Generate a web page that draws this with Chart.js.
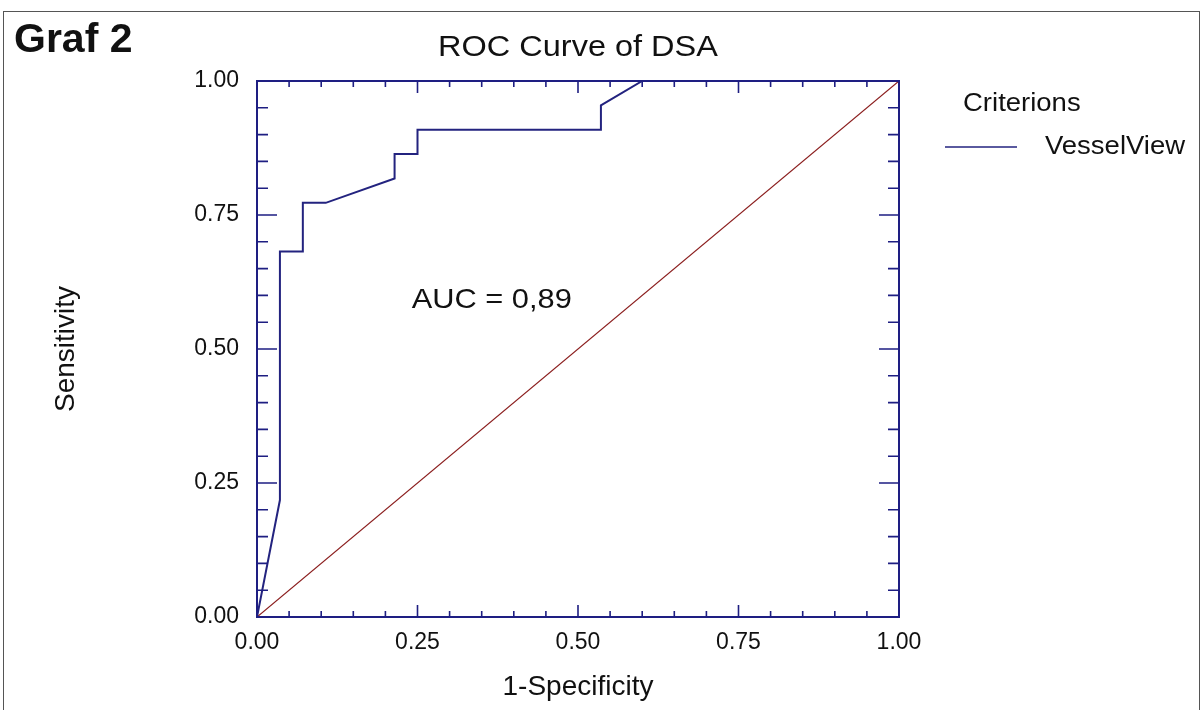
<!DOCTYPE html>
<html>
<head>
<meta charset="utf-8">
<script src="https://cdn.jsdelivr.net/npm/chart.js@4/dist/chart.umd.min.js"></script>
<style>
  body { margin: 0; background: #fff; }
  canvas { display: block; }
</style>
</head>
<body>
<canvas id="roc" width="1201" height="710"></canvas>
<script>
// ROC points (1-specificity, sensitivity)
const fpr = [0, 0.0357, 0.0357, 0.0714, 0.0714, 0.1071, 0.2143, 0.2143, 0.25, 0.25, 0.5357, 0.5357, 0.6, 1]
const tpr = [0, 0.2182, 0.6818, 0.6818, 0.7727, 0.7727, 0.8182, 0.8636, 0.8636, 0.9091, 0.9091, 0.9545, 1, 1]
const refLine = [0, 1]
const tickValues = [0, 0.25, 0.5, 0.75, 1]
const seriesName = "VesselView"
const legendTitle = "Criterions"
const aucText = "AUC = 0,89"

const navy = "#1e1e82"
const font = "'Liberation Sans', Arial, sans-serif"

// the original's fonts are a little wider than Arial, so stretch them a bit
function wideText(ctx, text, x, y, align, sx) {
  ctx.save()
  ctx.translate(x, y)
  ctx.scale(sx, 1)
  ctx.textAlign = align
  ctx.fillText(text, 0, 0)
  ctx.restore()
}

// frame, title, legend, annotation and the inward ticks on all four sides
const decor = {
  id: "decor",
  beforeDraw(chart) {
    const ctx = chart.ctx
    ctx.save()
    ctx.fillStyle = "#fff"
    ctx.fillRect(0, 0, chart.width, chart.height)
    ctx.strokeStyle = "#555"
    ctx.lineWidth = 1
    ctx.strokeRect(3.5, 11.5, chart.width - 5, chart.height + 10)
    ctx.restore()
  },
  afterDatasetsDraw(chart) {
    const ctx = chart.ctx
    const a = chart.chartArea
    const x = chart.scales.x
    const y = chart.scales.y
    ctx.save()
    ctx.strokeStyle = navy
    ctx.lineWidth = 2
    ctx.strokeRect(a.left, a.top, a.right - a.left, a.bottom - a.top)
    ctx.lineWidth = 1.6
    ctx.beginPath()
    for (let i = 1; i < 20; i++) {
      const v = i / 20
      const major = i % 5 === 0
      const px = x.getPixelForValue(v)
      const py = y.getPixelForValue(v)
      const hs = major ? 12 : 6
      const vs = major ? 20 : 11
      ctx.moveTo(px, a.bottom); ctx.lineTo(px, a.bottom - hs)
      ctx.moveTo(px, a.top); ctx.lineTo(px, a.top + hs)
      ctx.moveTo(a.left, py); ctx.lineTo(a.left + vs, py)
      ctx.moveTo(a.right, py); ctx.lineTo(a.right - vs, py)
    }
    ctx.stroke()

    ctx.fillStyle = "#111"
    ctx.textBaseline = "middle"
    ctx.font = "29px " + font
    wideText(ctx, "ROC Curve of DSA", (a.left + a.right) / 2, 48, "center", 1.12)

    ctx.font = "bold 41px " + font
    wideText(ctx, "Graf 2", 14, 41, "left", 1.0)

    ctx.font = "28px " + font
    wideText(ctx, aucText, x.getPixelForValue(0.241), y.getPixelForValue(0.59), "left", 1.1)

    ctx.font = "25px " + font
    wideText(ctx, legendTitle, 963, 104, "left", 1.1)
    wideText(ctx, chart.data.datasets[0].label, 1045, 147, "left", 1.1)
    ctx.strokeStyle = chart.data.datasets[0].borderColor
    ctx.lineWidth = 1.5
    ctx.beginPath()
    ctx.moveTo(945, 147); ctx.lineTo(1017, 147)
    ctx.stroke()
    ctx.restore()
  }
}

new Chart(document.getElementById("roc"), {
  type: "scatter",
  data: {
    datasets: [{
        label: seriesName,
        data: fpr.map((v, i) => ({ x: v, y: tpr[i] })),
        showLine: true,
        borderColor: "#23237f",
        borderWidth: 2,
        pointRadius: 0,
        order: 1
      },
      {
        label: "reference",
        data: refLine.map(v => ({ x: v, y: v })),
        showLine: true,
        borderColor: "#8b1e1e",
        borderWidth: 1.2,
        pointRadius: 0,
        order: 2
      }
    ]
  },
  options: {
    responsive: false,
    animation: false,
    layout: {
      padding: { left: 0, right: 302, top: 81, bottom: 0 }
    },
    plugins: {
      legend: { display: false },
      tooltip: { enabled: false }
    },
    scales: {
      x: {
        type: "linear",
        min: 0,
        max: 1,
        afterFit: s => { s.height = 93 },
        afterBuildTicks: s => { s.ticks = tickValues.map(v => ({ value: v })) },
        grid: { display: false, drawTicks: false },
        border: { display: false },
        ticks: {
          padding: 12,
          color: "#111",
          font: { family: font, size: 23 },
          callback: v => v.toFixed(2)
        },
        title: {
          display: true,
          text: "1-Specificity",
          color: "#111",
          font: { family: font, size: 28 },
          padding: { top: 0, bottom: 6 }
        }
      },
      y: {
        type: "linear",
        min: 0,
        max: 1,
        afterFit: s => { s.width = 257 },
        afterBuildTicks: s => { s.ticks = tickValues.map(v => ({ value: v })) },
        grid: { display: false, drawTicks: false },
        border: { display: false },
        ticks: {
          padding: 18,
          color: "#111",
          font: { family: font, size: 23 },
          callback: v => v.toFixed(2)
        },
        title: {
          display: true,
          text: "Sensitivity",
          color: "#111",
          font: { family: font, size: 28 },
          padding: { top: 49, bottom: 0 }
        }
      }
    }
  },
  plugins: [decor]
})
</script>
</body>
</html>
